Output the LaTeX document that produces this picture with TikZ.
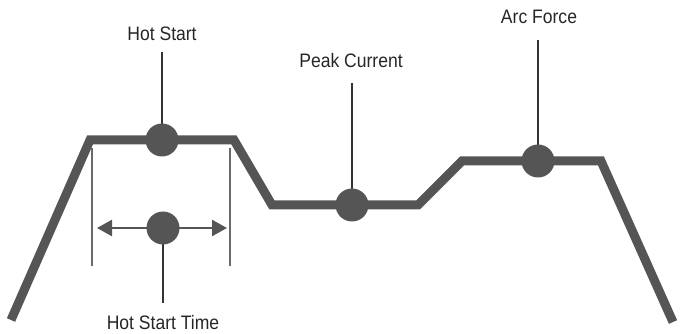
\documentclass[tikz,border=0pt]{standalone}
\usepackage{fontspec}
\setmainfont{Liberation Sans}[FakeStretch=0.9]
\usetikzlibrary{arrows.meta}
\definecolor{curve}{HTML}{555555}
\definecolor{leadc}{HTML}{333333}
\definecolor{guide}{HTML}{6A6A6A}
\begin{document}
\begin{tikzpicture}[x=1pt,y=-1pt,
  curveline/.style={draw=curve,line width=9pt,line join=miter},
  leader/.style={draw=leadc,line width=2pt},
  guideline/.style={draw=guide,line width=2.5pt},
  dot/.style={circle,fill=curve,inner sep=0pt,minimum size=33pt},
  lbl/.style={font=\fontsize{19.5}{22}\selectfont,text=black!85,anchor=base,inner sep=0pt},
  dimarrow/.style={draw=curve,line width=2.5pt,{Triangle[length=15pt,width=16pt]}-{Triangle[length=15pt,width=16pt]}}]
\useasboundingbox (0,0) rectangle (681,334);
% corners of the curve
\coordinate (p0) at (11,320);
\coordinate (p1) at (90,140);
\coordinate (p2) at (234,140);
\coordinate (p3) at (272,205);
\coordinate (p4) at (418,205);
\coordinate (p5) at (462,161);
\coordinate (p6) at (601,161);
\coordinate (p7) at (673,322);
\draw[curveline] (p0) -- (p1) -- (p2) -- (p3) -- (p4) -- (p5) -- (p6) -- (p7);
% guide lines
\coordinate (g1a) at (92,148);
\coordinate (g1b) at (92,266);
\coordinate (g2a) at (230,148);
\coordinate (g2b) at (230,266);
\draw[guideline] (g1a) -- (g1b);
\draw[guideline] (g2a) -- (g2b);
% labels
\node[lbl] (lhs) at (162,41) {Hot Start};
\node[lbl] (lpc) at (351,68) {Peak Current};
\node[lbl] (laf) at (539,24) {Arc Force};
\node[lbl] (lhst) at (163,330) {Hot Start Time};
\coordinate (hsTop) at (162,52);
\coordinate (pcTop) at (352,83);
\coordinate (afTop) at (538,40);
\coordinate (hstBot) at (163,303);
% dimension arrow
\coordinate (da) at (97,228);
\coordinate (db) at (227,228);
\draw[dimarrow] (da) -- (db);
% leaders
\draw[leader] (hsTop) -- (162,140);
\draw[leader] (pcTop) -- (352,205);
\draw[leader] (afTop) -- (538,161);
\draw[leader] (hstBot) -- (163,228);
% dots
\node[dot] (hs) at (162,140) {};
\node[dot] (hst) at (163,228) {};
\node[dot] (pc) at (352,205) {};
\node[dot] (af) at (538,161) {};
\end{tikzpicture}
\end{document}
